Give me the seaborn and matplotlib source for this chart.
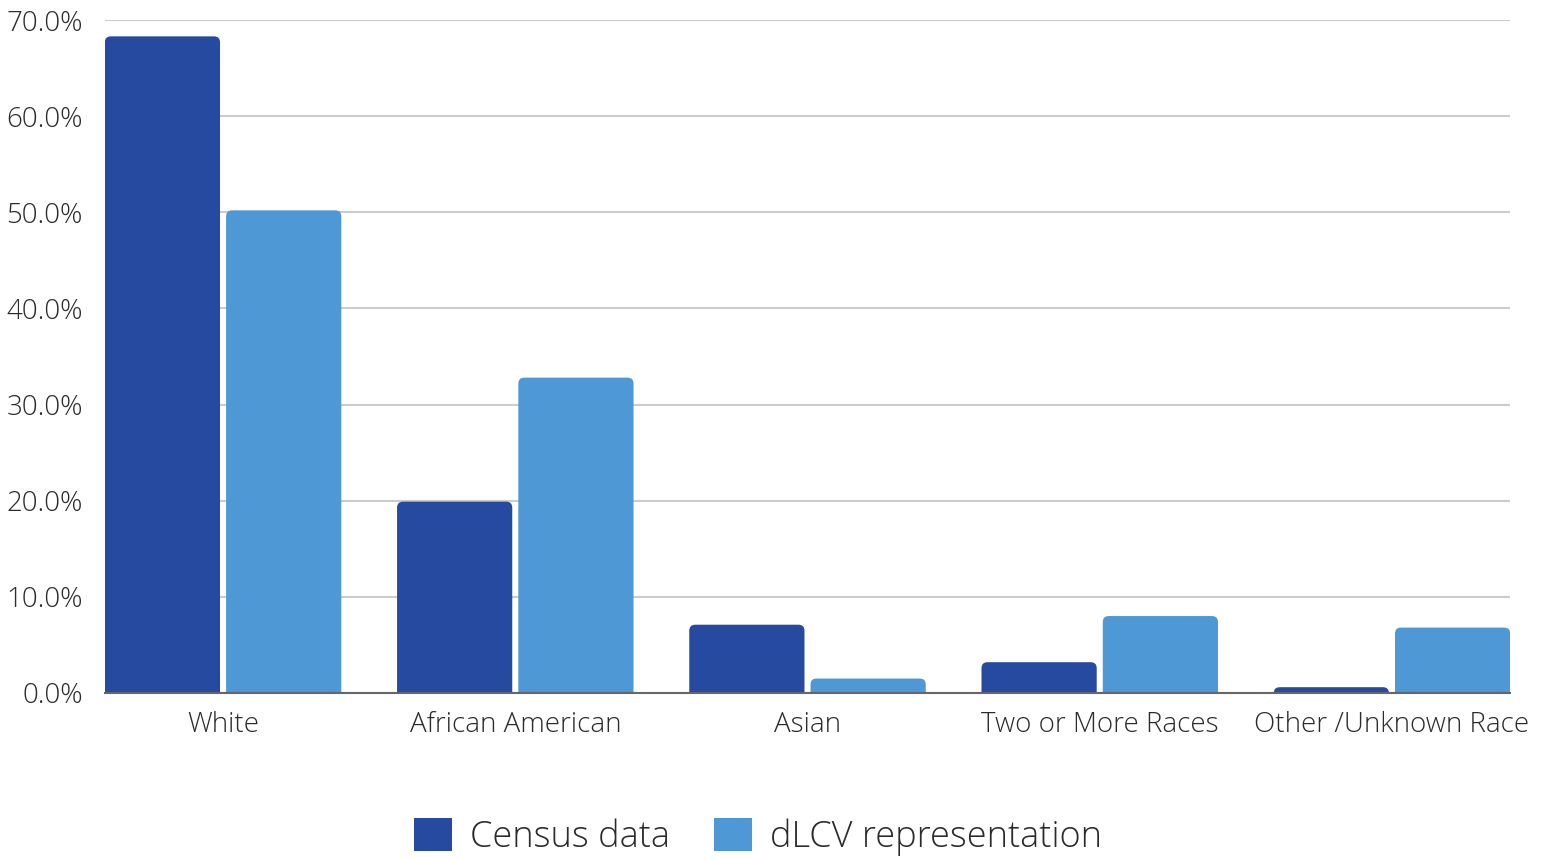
import pandas as pd
import seaborn as sns
import matplotlib.pyplot as plt
from matplotlib.patches import FancyBboxPatch, Patch
from matplotlib.ticker import FuncFormatter

races = ['White', 'African American', 'Asian', 'Two or More Races', 'Other /Unknown Race']
census = [68.3, 19.9, 7.1, 3.2, 0.6]
dlcv = [50.2, 32.8, 1.5, 8.0, 6.8]
series = ['Census data', 'dLCV representation']
colors = ['#264a9f', '#4d98d5']

df = pd.DataFrame({
    'Race': races * 2,
    'Share': census + dlcv,
    'Source': [series[0]] * len(races) + [series[1]] * len(races),
})

sns.set_style('white')
plt.rcParams['font.family'] = ['Open Sans', 'DejaVu Sans']
plt.rcParams['font.weight'] = 'light'
text_color = '#2b2b2b'

fig = plt.figure(figsize=(15.44, 8.59), dpi=100)
ax = fig.add_axes([0.068, 0.1933, 0.910, 0.7834])

sns.barplot(data=df, x='Race', y='Share', hue='Source', palette=colors,
            width=0.83, gap=0.05, saturation=1, legend=False, ax=ax)

ax.set_xlim(-0.404, 4.404)
ax.set_ylim(0, 70)

# swap plain rectangles for ones with rounded corners
fig.canvas.draw()
px_x = (ax.get_xlim()[1] - ax.get_xlim()[0]) / ax.bbox.width
px_y = (ax.get_ylim()[1] - ax.get_ylim()[0]) / ax.bbox.height
for p in list(ax.patches):
    x, w, h = p.get_x(), p.get_width(), p.get_height()
    fc = p.get_facecolor()
    p.remove()
    box = FancyBboxPatch((x, -2), w, h + 2,
                         boxstyle=f'round,pad=0,rounding_size={6 * px_x}',
                         mutation_aspect=px_y / px_x,
                         facecolor=fc, edgecolor='none', zorder=2)
    ax.add_patch(box)

ax.yaxis.set_major_formatter(FuncFormatter(lambda v, _: f'{v:.1f}%'))
ax.set_yticks(range(0, 71, 10))
ax.grid(axis='y', color='#cccccc', linewidth=1.5, zorder=0)
ax.set_axisbelow(True)
ax.set_xlabel('')
ax.set_ylabel('')
for s in ['top', 'right', 'left']:
    ax.spines[s].set_visible(False)
ax.spines['bottom'].set_color('#666666')
ax.spines['bottom'].set_linewidth(1.5)
ax.spines['bottom'].set_zorder(3)
ax.tick_params(axis='both', length=0, labelsize=20, labelcolor=text_color)
ax.tick_params(axis='y', pad=16)
ax.tick_params(axis='x', pad=13)

handles = [Patch(facecolor=c, edgecolor='none') for c in colors]
fig.legend(handles, series, loc='center', bbox_to_anchor=(0.491, 0.026),
           ncol=2, frameon=False, fontsize=26, labelcolor=text_color,
           handlelength=1.05, handleheight=1.05, handletextpad=0.5, columnspacing=1.2)

fig.savefig('out.png', dpi=100)
